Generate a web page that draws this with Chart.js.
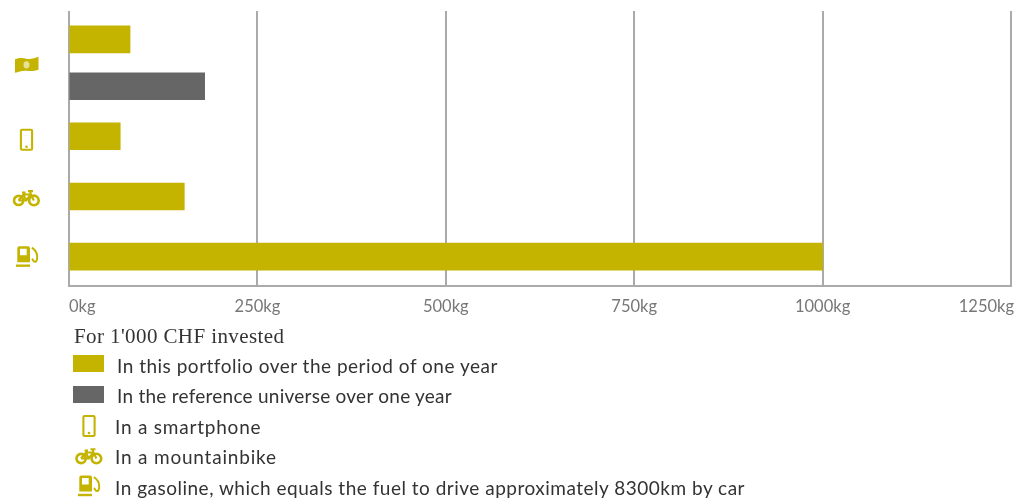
<!DOCTYPE html>
<html>
<head>
<meta charset="utf-8">
<script src="https://cdn.jsdelivr.net/npm/chart.js@4"></script>
<style>
  html, body { margin: 0; padding: 0; background: #fff; }
  #wrap { position: relative; width: 1016px; height: 499px; overflow: hidden; }
  #legend div, #legend svg { position: absolute; white-space: nowrap; }
  #legend .txt { font-family: Lato, sans-serif; font-size: 19px; letter-spacing: 0.5px; line-height: 22px; color: #333; }
  #legend .head { font-family: "Liberation Serif", serif; font-size: 21px; letter-spacing: 0.4px; line-height: 22px; color: #333; }
</style>
</head>
<body>
<div id="wrap">
  <canvas id="chart"></canvas>
  <div id="legend"></div>
</div>
<script>
// Valores (kg)
const portfolioValues = [81, 68, 153, 1000];
const referenceValues = [180];
// Linhas do eixo vertical: nota, smartphone, bicicleta, gasolina
const portfolioRows = [0.39, 2, 3, 4];
const referenceRows = [1.17];
const tickValues = [0, 250, 500, 750, 1000, 1250];
const legendTitle = "For 1'000 CHF invested";
const legendLabels = [
  'In this portfolio over the period of one year',
  'In the reference universe over one year',
  'In a smartphone',
  'In a mountainbike',
  'In gasoline, which equals the fuel to drive approximately 8300km by car'
];

const GOLD = '#c4b400';
const GREY = '#666666';
const AXIS = '#aaaaaa';

// Ícones desenhados em torno de (0,0)
const icons = {
  money: [
    { d: 'M-11.5 -5.5 C-7 -7.5 -3 -7 0 -6 C4 -5 8 -6.5 12 -8 L12 5 C8 6.5 4 6.5 0 6 C-4 5.5 -8 7 -11.5 8 Z', fill: GOLD },
    { d: 'M-3 0 A3 3.6 0 1 0 3 0 A3 3.6 0 1 0 -3 0 Z', fill: '#e8e09a' }
  ],
  phone: [
    { d: 'M-4.5 -10 H4.5 Q5.6 -10 5.6 -8.9 V8.9 Q5.6 10 4.5 10 H-4.5 Q-5.6 10 -5.6 8.9 V-8.9 Q-5.6 -10 -4.5 -10 Z', stroke: GOLD, width: 2.1 },
    { d: 'M-1.3 7 A1.3 1.3 0 1 0 1.3 7 A1.3 1.3 0 1 0 -1.3 7 Z', fill: GOLD }
  ],
  bike: [
    { d: 'M-12.5 2.5 A4.6 4.6 0 1 0 -3.3 2.5 A4.6 4.6 0 1 0 -12.5 2.5 Z', stroke: GOLD, width: 2.6 },
    { d: 'M2.6 2.5 A4.8 4.8 0 1 0 12.2 2.5 A4.8 4.8 0 1 0 2.6 2.5 Z', stroke: GOLD, width: 2.6 },
    { d: 'M-8 2.5 L-3 -3.5 H4.5 L7.4 2.5 M-3 -3.5 L-0.5 2.5 H-8 M-0.5 2.5 L4.5 -3.5 M3.6 -6.5 L4.5 -3.5 M1.5 -6.8 H6.5 M-4.5 -5.5 H-1', stroke: GOLD, width: 2.1 }
  ],
  fuel: [
    { d: 'M-9.7 -8.5 Q-9.7 -10.5 -7.7 -10.5 H1 Q3 -10.5 3 -8.5 V5.5 H-9.7 Z M-7 -8 V-1.5 H-0.3 V-8 Z', fill: GOLD, rule: 'evenodd' },
    { d: 'M-11 7.8 H3 V10.2 H-11 Z', fill: GOLD },
    { d: 'M4.8 -9 C8.5 -6.5 10.2 -3.5 10.2 0 C10.2 3 9.6 5 8 5 C6.2 5 6 3 5 2', stroke: GOLD, width: 2 }
  ]
};

function traceIcon(ctx, icon, x, y) {
  ctx.save();
  ctx.translate(x, y);
  icon.forEach(part => {
    const path = new Path2D(part.d);
    if (part.fill) {
      ctx.fillStyle = part.fill;
      ctx.fill(path, part.rule || 'nonzero');
    } else {
      ctx.strokeStyle = part.stroke;
      ctx.lineWidth = part.width;
      ctx.stroke(path);
    }
  });
  ctx.restore();
}

// Ícones à esquerda e rótulos do eixo x mantidos dentro do gráfico
const axisDecor = {
  id: 'axisDecor',
  afterDraw(chart) {
    const { ctx, scales: { x, y } } = chart;
    traceIcon(ctx, icons.money, 26.5, y.getPixelForValue((portfolioRows[0] + referenceRows[0]) / 2) + 2);
    traceIcon(ctx, icons.phone, 26.5, y.getPixelForValue(portfolioRows[1]) + 3.5);
    traceIcon(ctx, icons.bike, 26.5, y.getPixelForValue(portfolioRows[2]) + 1.5);
    traceIcon(ctx, icons.fuel, 27, y.getPixelForValue(portfolioRows[3]));

    ctx.save();
    ctx.font = '16.5px Lato, sans-serif';
    ctx.fillStyle = '#777777';
    ctx.textBaseline = 'alphabetic';
    ctx.textAlign = 'left';
    x.ticks.forEach(t => {
      const label = t.value + 'kg';
      const w = ctx.measureText(label).width;
      let left = x.getPixelForValue(t.value) - w / 2;
      left = Math.max(69, Math.min(1014 - w, left));
      ctx.fillText(label, left, 312);
    });
    ctx.restore();
  }
};

new Chart(document.getElementById('chart'), {
  type: 'bar',
  data: {
    datasets: [
      {
        data: portfolioValues.map((v, i) => ({ x: v, y: portfolioRows[i] })),
        backgroundColor: GOLD,
        barThickness: 27,
        base: 1,
        grouped: false
      },
      {
        data: referenceValues.map((v, i) => ({ x: v, y: referenceRows[i] })),
        backgroundColor: GREY,
        barThickness: 27,
        base: 1,
        grouped: false
      }
    ]
  },
  options: {
    indexAxis: 'y',
    responsive: true,
    maintainAspectRatio: false,
    animation: false,
    layout: { padding: { left: 69, right: 5, top: 11, bottom: 213 } },
    plugins: { legend: { display: false }, tooltip: { enabled: false } },
    scales: {
      x: {
        type: 'linear',
        min: tickValues[0],
        max: tickValues[tickValues.length - 1],
        afterBuildTicks: scale => { scale.ticks = tickValues.map(value => ({ value })); },
        grid: { color: AXIS, lineWidth: 2, drawTicks: false },
        border: { display: true, color: AXIS, width: 2 },
        ticks: { display: false }
      },
      y: {
        type: 'linear',
        display: false,
        reverse: true,
        offset: false,
        min: -0.08,
        max: 4.487
      }
    }
  },
  plugins: [axisDecor]
});

// Legenda em HTML
const legend = document.getElementById('legend');

function addText(text, cls, left, centerY, spacing) {
  const el = document.createElement('div');
  el.className = cls;
  el.textContent = text;
  el.style.left = left + 'px';
  el.style.top = (centerY - 11) + 'px';
  if (spacing !== undefined) el.style.letterSpacing = spacing + 'px';
  legend.appendChild(el);
}

function addSwatch(color, top) {
  const el = document.createElement('div');
  el.style.cssText = `left:73px;top:${top}px;width:31px;height:17px;background:${color}`;
  legend.appendChild(el);
}

function addIcon(icon, cx, cy) {
  const ns = 'http://www.w3.org/2000/svg';
  const svg = document.createElementNS(ns, 'svg');
  svg.setAttribute('width', 32);
  svg.setAttribute('height', 28);
  svg.setAttribute('viewBox', '-16 -14 32 28');
  svg.style.left = (cx - 16) + 'px';
  svg.style.top = (cy - 14) + 'px';
  icon.forEach(part => {
    const p = document.createElementNS(ns, 'path');
    p.setAttribute('d', part.d);
    p.setAttribute('fill', part.fill || 'none');
    if (part.rule) p.setAttribute('fill-rule', part.rule);
    if (part.stroke) {
      p.setAttribute('stroke', part.stroke);
      p.setAttribute('stroke-width', part.width);
    }
    svg.appendChild(p);
  });
  legend.appendChild(svg);
}

addText(legendTitle, 'head', 74, 336);
addSwatch(GOLD, 355);
addText(legendLabels[0], 'txt', 117, 366);
addSwatch(GREY, 386);
addText(legendLabels[1], 'txt', 117, 396, 0.25);
addIcon(icons.phone, 88.5, 425.5);
addText(legendLabels[2], 'txt', 115, 427, 0.78);
addIcon(icons.bike, 88.5, 456);
addText(legendLabels[3], 'txt', 115, 457, 0.8);
addIcon(icons.fuel, 89, 486);
addText(legendLabels[4], 'txt', 115, 488);
</script>
</body>
</html>
